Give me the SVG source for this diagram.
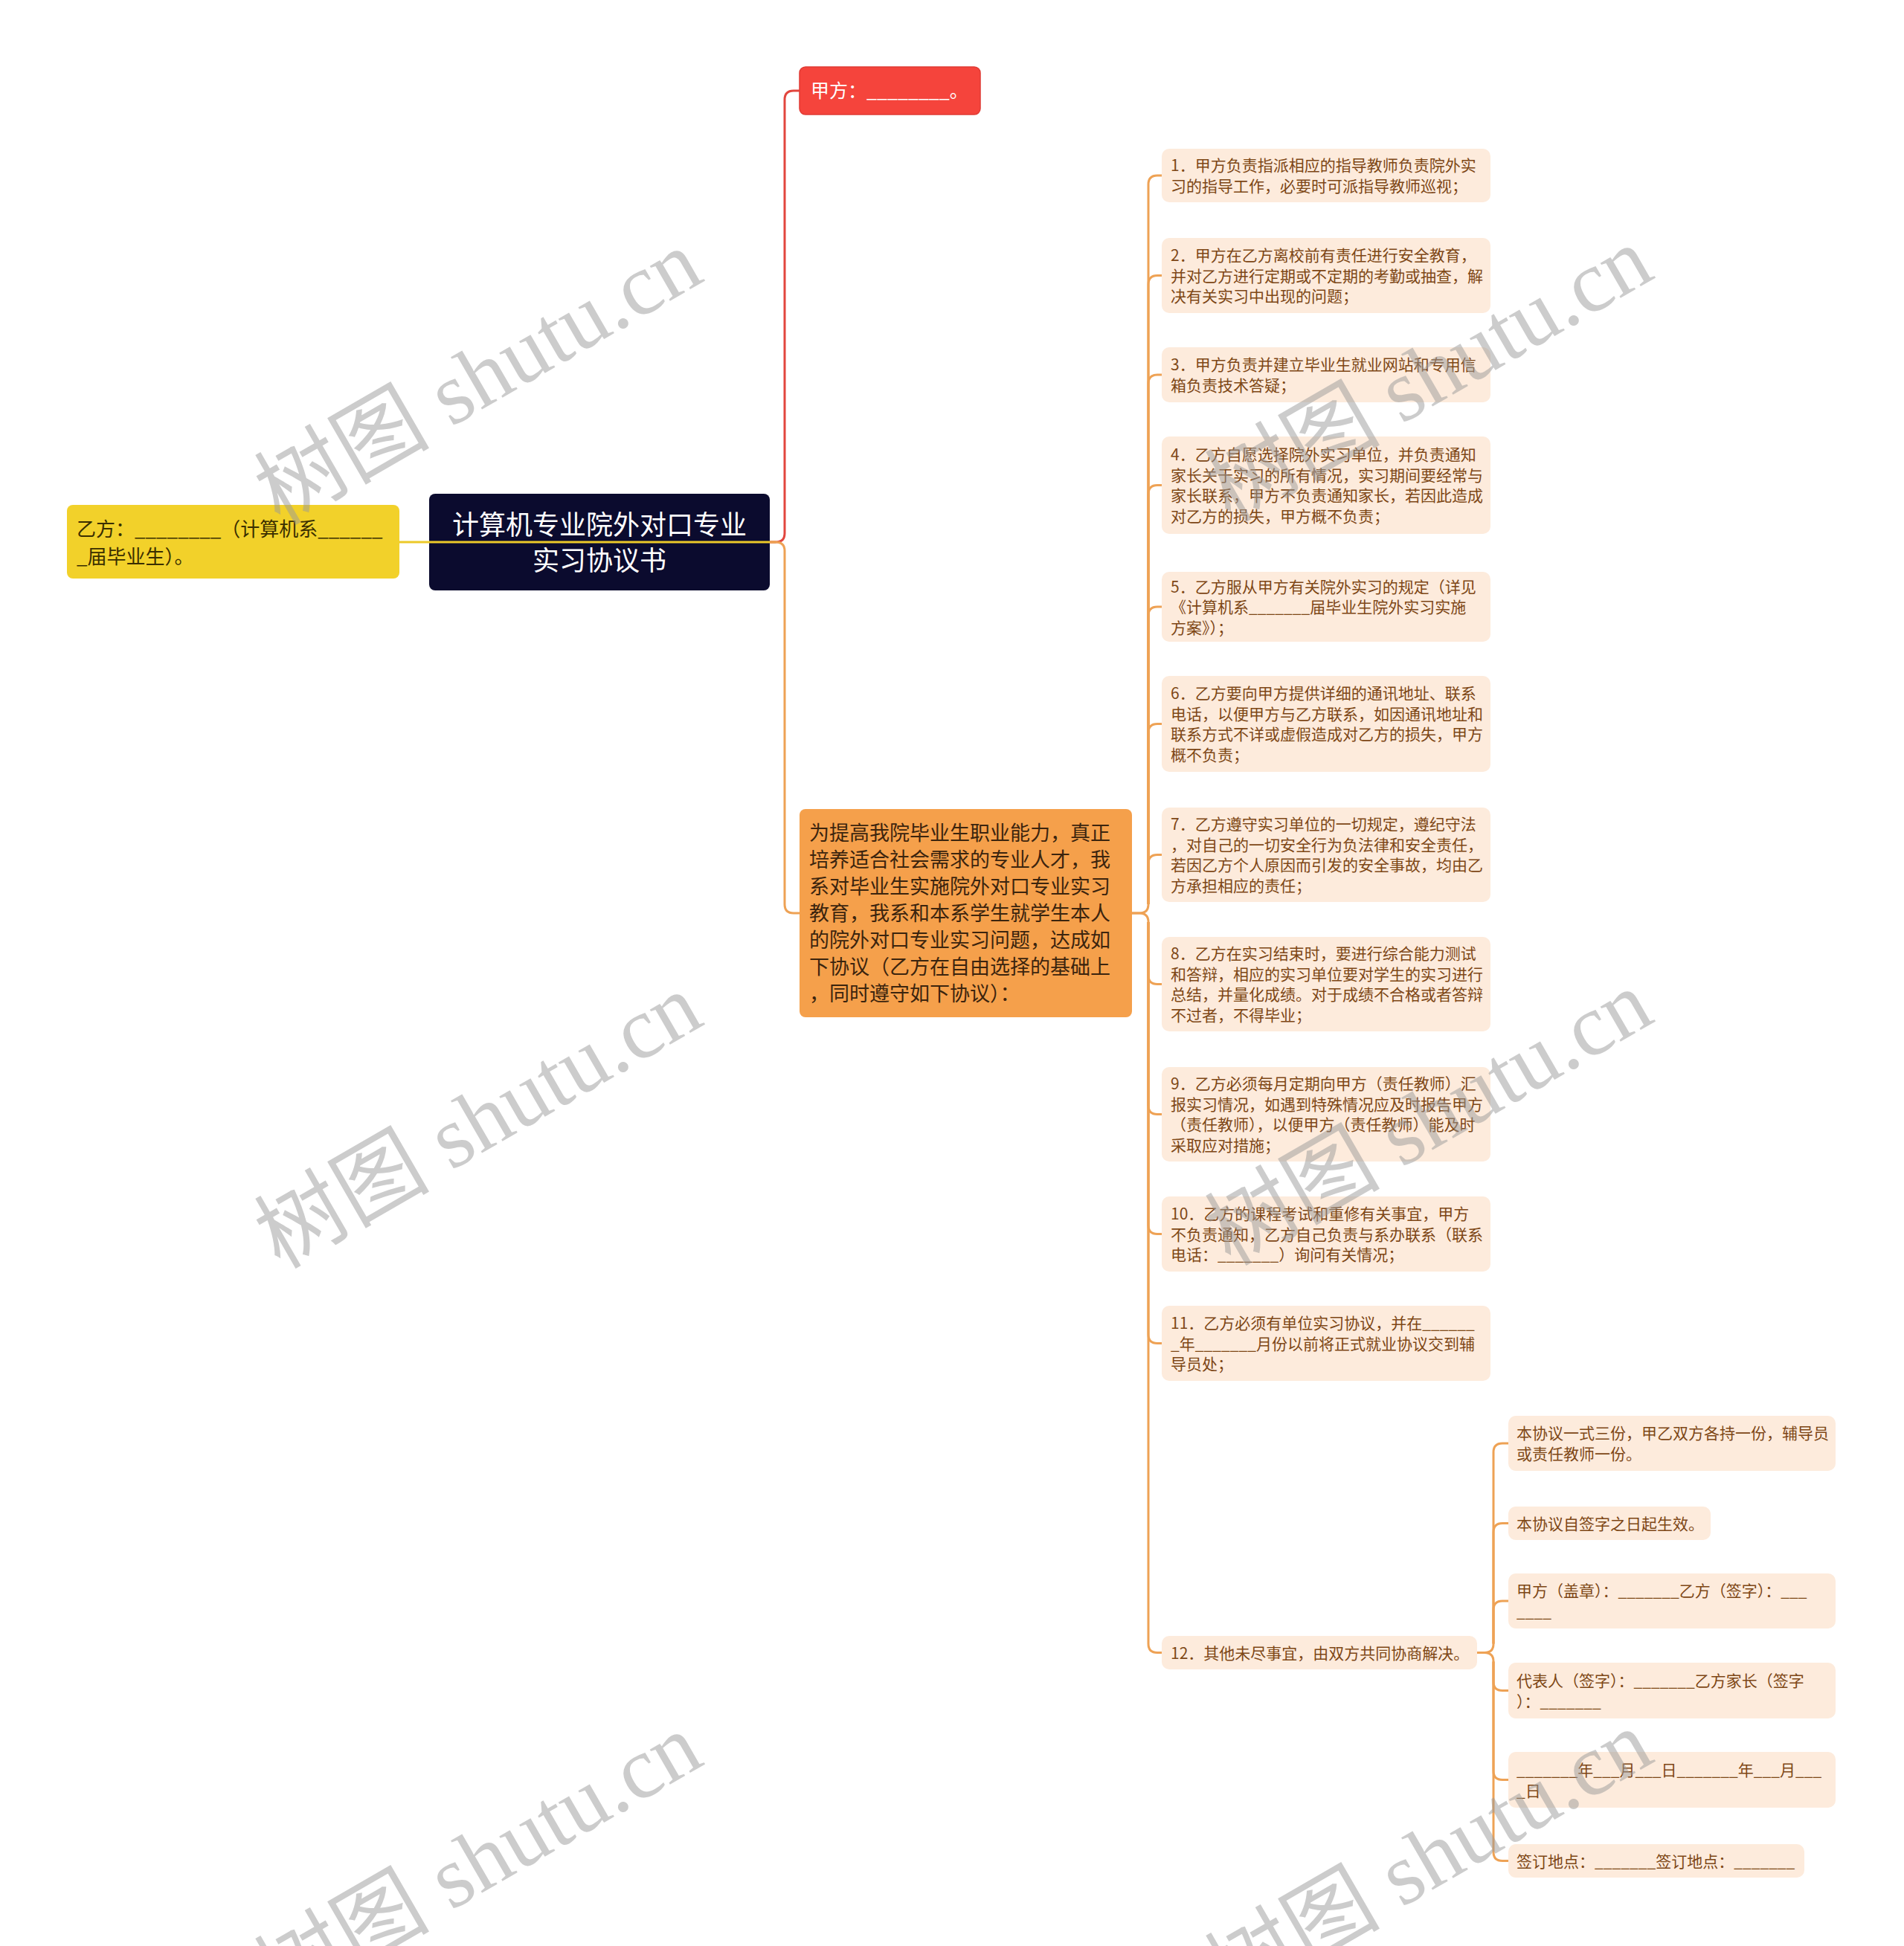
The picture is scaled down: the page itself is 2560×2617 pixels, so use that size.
<svg xmlns="http://www.w3.org/2000/svg" width="2560" height="2617" viewBox="0 0 2560 2617">
<style>
.t{font-family:"Noto Sans CJK SC","Liberation Sans",sans-serif;}
.c{fill:#fdebdc;}
.ct{font-size:21px;fill:#7d4716;}
.wm{font-family:"Liberation Serif","Noto Sans CJK SC",serif;font-size:118px;fill:#9a9a9a;opacity:0.5;}
.ln{fill:none;stroke-width:3;}
.lo{stroke:#eea255;}
.lr{stroke:#e2463e;}
.ly{stroke:#ecc929;}
</style>
<rect width="2560" height="2617" fill="#ffffff"/>
<g id="nodes">
<g id="root">
<rect x="577" y="664" width="458" height="130" rx="8" fill="#0b0b2e"/>
<text class="t" font-size="36" fill="#ffffff" text-anchor="middle"><tspan x="806" y="719">计算机专业院外对口专业</tspan><tspan x="806" y="767">实习协议书</tspan></text>
</g>
<g id="yifang">
<rect x="90" y="679" width="447" height="99" rx="8" fill="#f2d12a"/>
<text class="t" font-size="26" fill="#3a2e00"><tspan x="103" y="721">乙方：________（计算机系______</tspan><tspan x="103" y="758">_届毕业生）。</tspan></text>
</g>
<g id="jiafang">
<rect x="1075" y="90" width="243" height="64" rx="8" fill="#f5443c" stroke="#e03a33" stroke-width="1.5"/>
<text class="t" font-size="25" fill="#ffffff"><tspan x="1090" y="131">甲方：________。</tspan></text>
</g>
<g id="intro">
<rect x="1075" y="1088" width="447" height="280" rx="8" fill="#f5a04b"/>
<text class="t" font-size="27" fill="#3b240e"><tspan x="1088" y="1130">为提高我院毕业生职业能力，真正</tspan><tspan x="1088" y="1166">培养适合社会需求的专业人才，我</tspan><tspan x="1088" y="1202">系对毕业生实施院外对口专业实习</tspan><tspan x="1088" y="1238">教育，我系和本系学生就学生本人</tspan><tspan x="1088" y="1274">的院外对口专业实习问题，达成如</tspan><tspan x="1088" y="1310">下协议（乙方在自由选择的基础上</tspan><tspan x="1088" y="1346">，同时遵守如下协议）：</tspan></text>
</g>
<g id="item1">
<rect class="c" x="1562" y="200" width="442" height="72" rx="10"/>
<text class="t ct"><tspan x="1574" y="230">1．甲方负责指派相应的指导教师负责院外实</tspan><tspan x="1574" y="258">习的指导工作，必要时可派指导教师巡视；</tspan></text>
</g>
<g id="item2">
<rect class="c" x="1562" y="320" width="442" height="101" rx="10"/>
<text class="t ct"><tspan x="1574" y="351">2．甲方在乙方离校前有责任进行安全教育，</tspan><tspan x="1574" y="378.5">并对乙方进行定期或不定期的考勤或抽查，解</tspan><tspan x="1574" y="406">决有关实习中出现的问题；</tspan></text>
</g>
<g id="item3">
<rect class="c" x="1562" y="467" width="442" height="74" rx="10"/>
<text class="t ct"><tspan x="1574" y="498">3．甲方负责并建立毕业生就业网站和专用信</tspan><tspan x="1574" y="526">箱负责技术答疑；</tspan></text>
</g>
<g id="item4">
<rect class="c" x="1562" y="587" width="442" height="131" rx="10"/>
<text class="t ct"><tspan x="1574" y="619">4．乙方自愿选择院外实习单位，并负责通知</tspan><tspan x="1574" y="647">家长关于实习的所有情况，实习期间要经常与</tspan><tspan x="1574" y="674">家长联系，甲方不负责通知家长，若因此造成</tspan><tspan x="1574" y="702">对乙方的损失，甲方概不负责；</tspan></text>
</g>
<g id="item5">
<rect class="c" x="1562" y="769" width="442" height="94" rx="10"/>
<text class="t ct"><tspan x="1574" y="796.5">5．乙方服从甲方有关院外实习的规定（详见</tspan><tspan x="1574" y="824">《计算机系_______届毕业生院外实习实施</tspan><tspan x="1574" y="851.5">方案》）；</tspan></text>
</g>
<g id="item6">
<rect class="c" x="1562" y="909" width="442" height="129" rx="10"/>
<text class="t ct"><tspan x="1574" y="940">6．乙方要向甲方提供详细的通讯地址、联系</tspan><tspan x="1574" y="968">电话，以便甲方与乙方联系，如因通讯地址和</tspan><tspan x="1574" y="995">联系方式不详或虚假造成对乙方的损失，甲方</tspan><tspan x="1574" y="1023">概不负责；</tspan></text>
</g>
<g id="item7">
<rect class="c" x="1562" y="1086" width="442" height="127" rx="10"/>
<text class="t ct"><tspan x="1574" y="1116">7．乙方遵守实习单位的一切规定，遵纪守法</tspan><tspan x="1574" y="1144">，对自己的一切安全行为负法律和安全责任，</tspan><tspan x="1574" y="1171">若因乙方个人原因而引发的安全事故，均由乙</tspan><tspan x="1574" y="1199">方承担相应的责任；</tspan></text>
</g>
<g id="item8">
<rect class="c" x="1562" y="1260" width="442" height="127" rx="10"/>
<text class="t ct"><tspan x="1574" y="1290">8．乙方在实习结束时，要进行综合能力测试</tspan><tspan x="1574" y="1318">和答辩，相应的实习单位要对学生的实习进行</tspan><tspan x="1574" y="1345">总结，并量化成绩。对于成绩不合格或者答辩</tspan><tspan x="1574" y="1373">不过者，不得毕业；</tspan></text>
</g>
<g id="item9">
<rect class="c" x="1562" y="1435" width="442" height="127" rx="10"/>
<text class="t ct"><tspan x="1574" y="1465">9．乙方必须每月定期向甲方（责任教师）汇</tspan><tspan x="1574" y="1493">报实习情况，如遇到特殊情况应及时报告甲方</tspan><tspan x="1574" y="1520">（责任教师），以便甲方（责任教师）能及时</tspan><tspan x="1574" y="1548">采取应对措施；</tspan></text>
</g>
<g id="item10">
<rect class="c" x="1562" y="1609" width="442" height="101" rx="10"/>
<text class="t ct"><tspan x="1574" y="1640">10．乙方的课程考试和重修有关事宜，甲方</tspan><tspan x="1574" y="1667.5">不负责通知，乙方自己负责与系办联系（联系</tspan><tspan x="1574" y="1695">电话：_______）询问有关情况；</tspan></text>
</g>
<g id="item11">
<rect class="c" x="1562" y="1756" width="442" height="101" rx="10"/>
<text class="t ct"><tspan x="1574" y="1787">11．乙方必须有单位实习协议，并在______</tspan><tspan x="1574" y="1814.5">_年_______月份以前将正式就业协议交到辅</tspan><tspan x="1574" y="1842">导员处；</tspan></text>
</g>
<g id="item12">
<rect class="c" x="1562" y="2200" width="424" height="45" rx="10"/>
<text class="t ct"><tspan x="1574" y="2230.5">12．其他未尽事宜，由双方共同协商解决。</tspan></text>
</g>
<g id="sub1">
<rect class="c" x="2028" y="1904" width="440" height="74" rx="10"/>
<text class="t ct"><tspan x="2039" y="1935">本协议一式三份，甲乙双方各持一份，辅导员</tspan><tspan x="2039" y="1963">或责任教师一份。</tspan></text>
</g>
<g id="sub2">
<rect class="c" x="2028" y="2026" width="272" height="45" rx="10"/>
<text class="t ct"><tspan x="2039" y="2056.5">本协议自签字之日起生效。</tspan></text>
</g>
<g id="sub3">
<rect class="c" x="2028" y="2116" width="440" height="74" rx="10"/>
<text class="t ct"><tspan x="2039" y="2147">甲方（盖章）：_______乙方（签字）：___</tspan><tspan x="2039" y="2175">____</tspan></text>
</g>
<g id="sub4">
<rect class="c" x="2028" y="2236" width="440" height="75" rx="10"/>
<text class="t ct"><tspan x="2039" y="2268">代表人（签字）：_______乙方家长（签字</tspan><tspan x="2039" y="2295.5">）：_______</tspan></text>
</g>
<g id="sub5">
<rect class="c" x="2028" y="2356" width="440" height="75" rx="10"/>
<text class="t ct"><tspan x="2039" y="2388">_______年___月___日_______年___月___</tspan><tspan x="2039" y="2415.5">_日</tspan></text>
</g>
<g id="sub6">
<rect class="c" x="2028" y="2480" width="398" height="45" rx="10"/>
<text class="t ct"><tspan x="2039" y="2510.5">签订地点：_______签订地点：_______</tspan></text>
</g>
</g>
<g id="connectors">
<path class="ln ly" d="M537,729 H1043"/>
<path class="ln lr" d="M1035,729 H1043 Q1055,729 1055,717 V134 Q1055,122 1067,122 H1075"/>
<path class="ln lo" d="M1035,729 H1043 Q1055,729 1055,741 V1216 Q1055,1228 1067,1228 H1075"/>
<path class="ln lo" d="M1522,1228 H1532 Q1544,1228 1544,1216 V248 Q1544,236 1556,236 H1562"/>
<path class="ln lo" d="M1544,1216 V382.5 Q1544,370.5 1556,370.5 H1562"/>
<path class="ln lo" d="M1544,1216 V516 Q1544,504 1556,504 H1562"/>
<path class="ln lo" d="M1544,1216 V664.5 Q1544,652.5 1556,652.5 H1562"/>
<path class="ln lo" d="M1544,1216 V828 Q1544,816 1556,816 H1562"/>
<path class="ln lo" d="M1544,1216 V985.5 Q1544,973.5 1556,973.5 H1562"/>
<path class="ln lo" d="M1544,1216 V1161.5 Q1544,1149.5 1556,1149.5 H1562"/>
<path class="ln lo" d="M1522,1228 H1532 Q1544,1228 1544,1240 V2210.5 Q1544,2222.5 1556,2222.5 H1562"/>
<path class="ln lo" d="M1544,1240 V1311.5 Q1544,1323.5 1556,1323.5 H1562"/>
<path class="ln lo" d="M1544,1240 V1486.5 Q1544,1498.5 1556,1498.5 H1562"/>
<path class="ln lo" d="M1544,1240 V1647.5 Q1544,1659.5 1556,1659.5 H1562"/>
<path class="ln lo" d="M1544,1240 V1794.5 Q1544,1806.5 1556,1806.5 H1562"/>
<path class="ln lo" d="M1986,2222.5 H1996 Q2008,2222.5 2008,2210.5 V1953 Q2008,1941 2020,1941 H2028"/>
<path class="ln lo" d="M2008,2210.5 V2060.5 Q2008,2048.5 2020,2048.5 H2028"/>
<path class="ln lo" d="M2008,2210.5 V2165 Q2008,2153 2020,2153 H2028"/>
<path class="ln lo" d="M1986,2222.5 H1996 Q2008,2222.5 2008,2234.5 V2490.5 Q2008,2502.5 2020,2502.5 H2028"/>
<path class="ln lo" d="M2008,2234.5 V2261.5 Q2008,2273.5 2020,2273.5 H2028"/>
<path class="ln lo" d="M2008,2234.5 V2381.5 Q2008,2393.5 2020,2393.5 H2028"/>
</g>
<g id="watermarks">
<text class="wm" text-anchor="middle" transform="translate(663,542) rotate(-30)">树图 shutu.cn</text>
<text class="wm" text-anchor="middle" transform="translate(663,1542) rotate(-30)">树图 shutu.cn</text>
<text class="wm" text-anchor="middle" transform="translate(663,2537) rotate(-30)">树图 shutu.cn</text>
<text class="wm" text-anchor="middle" transform="translate(1941,538) rotate(-30)">树图 shutu.cn</text>
<text class="wm" text-anchor="middle" transform="translate(1941,1538) rotate(-30)">树图 shutu.cn</text>
<text class="wm" text-anchor="middle" transform="translate(1941,2533) rotate(-30)">树图 shutu.cn</text>
</g>
</svg>
